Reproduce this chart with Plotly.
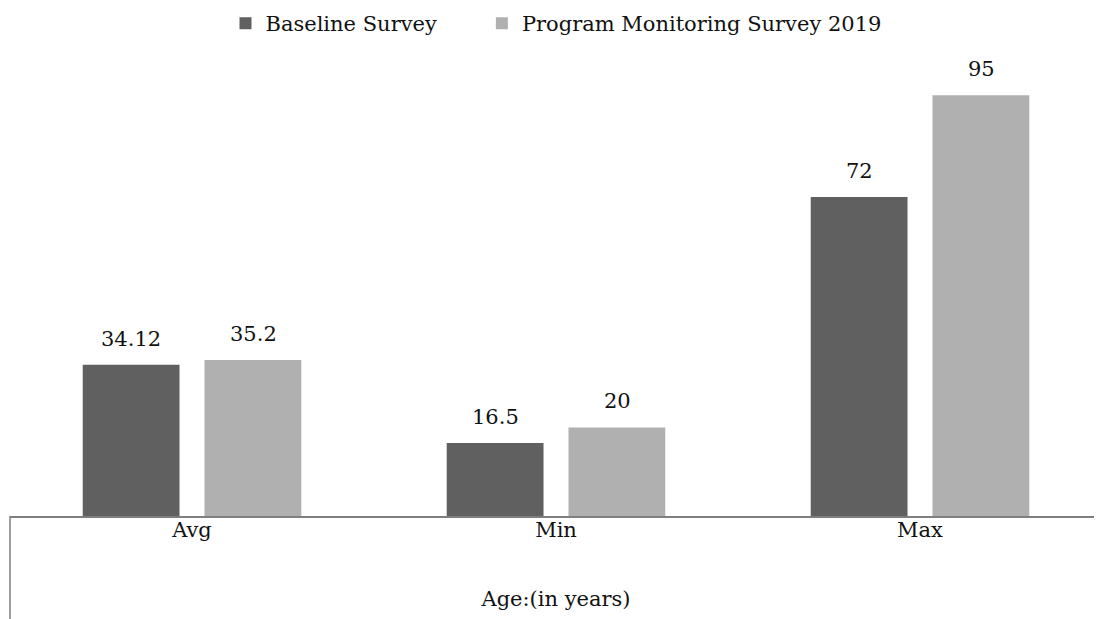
import plotly.graph_objects as go

categories = ["Avg", "Min", "Max"]
baseline = [34.12, 16.5, 72]
pms2019 = [35.2, 20, 95]
baseline_labels = ["34.12", "16.5", "72"]
pms_labels = ["35.2", "20", "95"]

font_family = "DejaVu Serif"
FS = 21
NB = "&nbsp;"

fig = go.Figure()
fig.add_trace(go.Bar(
    x=categories, y=baseline, name="Baseline Survey" + NB * 6,
    marker=dict(color="#606060", line=dict(width=0)),
    offsetgroup="a",
))
fig.add_trace(go.Bar(
    x=categories, y=pms2019, name="Program Monitoring Survey 2019",
    marker=dict(color="#b0b0b0", line=dict(width=0)),
    offsetgroup="b",
))

# value labels above the bars (bar centres are +/-61px from category centre)
for vals, labs, shift in [(baseline, baseline_labels, -61), (pms2019, pms_labels, 61)]:
    for c, v, t in zip(categories, vals, labs):
        fig.add_annotation(x=c, y=v, text=t, showarrow=False, xshift=shift,
                           yanchor="bottom", yshift=12,
                           font=dict(size=FS, family=font_family, color="#111111"))

# page body has an 8px margin; figure sized to fit the viewport
fig.update_layout(
    width=1094, height=611,
    margin=dict(l=2, r=0, t=65, b=103, autoexpand=False),
    paper_bgcolor="#ffffff", plot_bgcolor="#ffffff",
    font=dict(family=font_family, size=FS, color="#111111"),
    barmode="group", bargap=0.331, bargroupgap=0.205,
    showlegend=True,
    legend=dict(orientation="h", x=0.5, xanchor="center", y=1.158, yanchor="top",
                yref="paper", font=dict(size=FS, family=font_family),
                traceorder="normal", itemwidth=30, tracegroupgap=0),
    xaxis=dict(showline=True, linecolor="#7f7f7f", linewidth=1.5, ticks="", ticklen=0,
               ticklabelstandoff=-6,
               tickfont=dict(size=FS), title=dict(text="Age:(in years)", standoff=50,
               font=dict(size=FS))),
    yaxis=dict(range=[0, 100], visible=False, showgrid=False),
)
fig.add_shape(type="line", xref="paper", yref="paper", x0=0, x1=0, y0=0, y1=-103/443,
              line=dict(color="#7f7f7f", width=1.5))

fig.write_html("out.html")
